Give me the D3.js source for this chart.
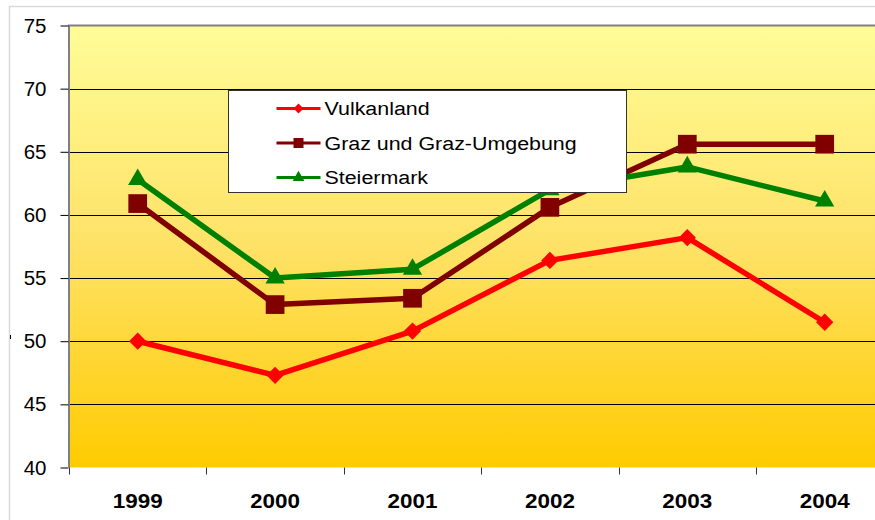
<!DOCTYPE html>
<html>
<head>
<meta charset="utf-8">
<script src="https://cdn.jsdelivr.net/npm/d3@7/dist/d3.min.js"></script>
<style>
  html, body { margin: 0; padding: 0; background: #fff; overflow: hidden; }
  svg { display: block; font-family: "Liberation Sans", Arial, sans-serif; }
</style>
</head>
<body>
<svg id="chart"></svg>
<script>
// values
var years = ["1999", "2000", "2001", "2002", "2003", "2004"];
var vulkanland = [50.0, 47.3, 50.8, 56.4, 58.2, 51.5];
var grazUmgebung = [60.9, 52.9, 53.4, 60.6, 65.6, 65.6];
var steiermark = [62.8, 55.0, 55.7, 62.0, 63.8, 61.1];
var seriesNames = ["Vulkanland", "Graz und Graz-Umgebung", "Steiermark"];
var yTicks = [40, 45, 50, 55, 60, 65, 70, 75];

class LineChart {

  constructor(target) {
    this.width = 875;
    this.height = 520;
    this.svg = d3.select(target).attr("width", this.width).attr("height", this.height);
    // plot area runs past the right edge of the picture, like the original
    this.x = d3.scaleBand().domain(years).range([69, 893.4]).padding(0);
    this.y = d3.scaleLinear().domain([40, 75]).range([467.5, 25.5]);
    this.series = [
      {name: seriesNames[0], values: vulkanland, color: "#ff0000", shape: "diamond"},
      {name: seriesNames[1], values: grazUmgebung, color: "#800000", shape: "square"},
      {name: seriesNames[2], values: steiermark, color: "#008000", shape: "triangle"}
    ];
  }

  _marker(shape, big) {
    if (shape == "diamond") return d3.symbol(d3.symbolSquare, big ? 150 : 50)();
    if (shape == "square") return d3.symbol(d3.symbolSquare, big ? 350 : 100)();
    return d3.symbol(d3.symbolTriangle, big ? 160 : 60)();
  }

  _renderFrame() {
    var self = this;
    var defs = self.svg.append("defs");
    var grad = defs.append("linearGradient").attr("id", "bg")
      .attr("x1", 0).attr("y1", 0).attr("x2", 0).attr("y2", 1);
    grad.append("stop").attr("offset", "0%").attr("stop-color", "#fffc98");
    grad.append("stop").attr("offset", "50%").attr("stop-color", "#fee267");
    grad.append("stop").attr("offset", "100%").attr("stop-color", "#ffcb00");

    self.svg.append("rect")
      .attr("x", 9.5).attr("y", 6.5).attr("width", 900).attr("height", 600)
      .attr("fill", "#fff").attr("stroke", "#d9d9d9").attr("stroke-width", 1.5);

    var r = self.x.range();
    self.svg.append("rect")
      .attr("x", r[0]).attr("y", self.y(75))
      .attr("width", r[1] - r[0]).attr("height", self.y(40) - self.y(75))
      .attr("fill", "url(#bg)");

    self.svg.append("g")
      .selectAll("line")
      .data(yTicks.filter(function(d) { return d > 40 && d < 75; }))
      .enter().append("line")
        .attr("x1", r[0]).attr("x2", r[1])
        .attr("y1", function(d) { return Math.round(self.y(d)) + 0.5; })
        .attr("y2", function(d) { return Math.round(self.y(d)) + 0.5; })
        .attr("stroke", "#000").attr("stroke-width", 1);

    // gray border on top and left
    self.svg.append("path")
      .attr("d", "M" + r[0] + "," + 467.5 + "V" + self.y(75) + "H" + r[1])
      .attr("fill", "none").attr("stroke", "#808080").attr("stroke-width", 2);
  }

  _renderAxes() {
    var self = this;
    var yAxis = d3.axisLeft(self.y).tickValues(yTicks).tickSize(8).tickPadding(14);
    var gy = self.svg.append("g").attr("transform", "translate(68.5,0)").call(yAxis);
    gy.select(".domain").remove();
    gy.selectAll(".tick line").attr("stroke", "#000");
    gy.selectAll(".tick text")
      .attr("font-size", 20.5).attr("font-family", "Liberation Sans, Arial, sans-serif")
      .attr("fill", "#000");

    var xAxis = d3.axisBottom(self.x).tickSize(0).tickPadding(0);
    var gx = self.svg.append("g").attr("transform", "translate(0,467.5)").call(xAxis);
    gx.select(".domain").remove();
    // stretched a little, as in the original
    gx.selectAll(".tick text")
      .attr("dy", null).attr("y", 0)
      .attr("transform", "translate(0,40.5) scale(1.07,1)")
      .attr("font-size", 21).attr("font-weight", "bold")
      .attr("font-family", "Liberation Sans, Arial, sans-serif").attr("fill", "#000");

    // tick marks between the categories
    var bounds = years.map(function(d) { return self.x(d); });
    gx.append("g").selectAll("line")
      .data(bounds)
      .enter().append("line")
        .attr("x1", function(d) { return Math.round(d) + 0.5; })
        .attr("x2", function(d) { return Math.round(d) + 0.5; })
        .attr("y1", 0).attr("y2", 7)
        .attr("stroke", "#333");

    // stray mark at the left edge
    self.svg.append("line")
      .attr("x1", 10.5).attr("x2", 10.5).attr("y1", 335).attr("y2", 339)
      .attr("stroke", "#000");
  }

  _renderLines() {
    var self = this;
    var cx = function(i) { return self.x(years[i]) + self.x.bandwidth() / 2; };
    var line = d3.line()
      .x(function(d, i) { return cx(i); })
      .y(function(d) { return self.y(d); });

    var g = self.svg.append("g").selectAll("g")
      .data(self.series)
      .enter().append("g");

    g.append("path")
      .attr("d", function(d) { return line(d.values); })
      .attr("fill", "none")
      .attr("stroke", function(d) { return d.color; })
      .attr("stroke-width", 5.5)
      .attr("stroke-linejoin", "round");

    g.each(function(s) {
      d3.select(this).selectAll(".mark")
        .data(s.values)
        .enter().append("path")
          .attr("class", "mark")
          .attr("d", self._marker(s.shape, true))
          .attr("fill", s.color)
          .attr("transform", function(d, i) {
            var t = "translate(" + cx(i) + "," + self.y(d) + ")";
            return s.shape == "diamond" ? t + " rotate(45)" : t;
          });
    });
  }

  _renderLegend() {
    var self = this;
    var lg = self.svg.append("g").attr("transform", "translate(228.5,90.5)");
    lg.append("rect")
      .attr("width", 398).attr("height", 102)
      .attr("fill", "#fff").attr("stroke", "#333").attr("stroke-width", 1);

    var item = lg.selectAll(".item")
      .data(self.series)
      .enter().append("g")
        .attr("class", "item")
        .attr("transform", function(d, i) { return "translate(0," + (18 + i * 34.5) + ")"; });

    item.append("line")
      .attr("x1", 48).attr("x2", 92)
      .attr("stroke", function(d) { return d.color; })
      .attr("stroke-width", 3);

    item.append("path")
      .attr("d", function(d) { return self._marker(d.shape, false); })
      .attr("fill", function(d) { return d.color; })
      .attr("transform", function(d) { return "translate(70,0)" + (d.shape == "diamond" ? " rotate(45)" : ""); });

    item.append("text")
      .attr("transform", "translate(96,6.5) scale(1.19,1)")
      .attr("font-size", 18)
      .attr("fill", "#000")
      .text(function(d) { return d.name; });
  }

  render() {
    this._renderFrame();
    this._renderAxes();
    this._renderLines();
    this._renderLegend();
  }
}

var chart = new LineChart("#chart");
chart.render();
</script>
</body>
</html>
